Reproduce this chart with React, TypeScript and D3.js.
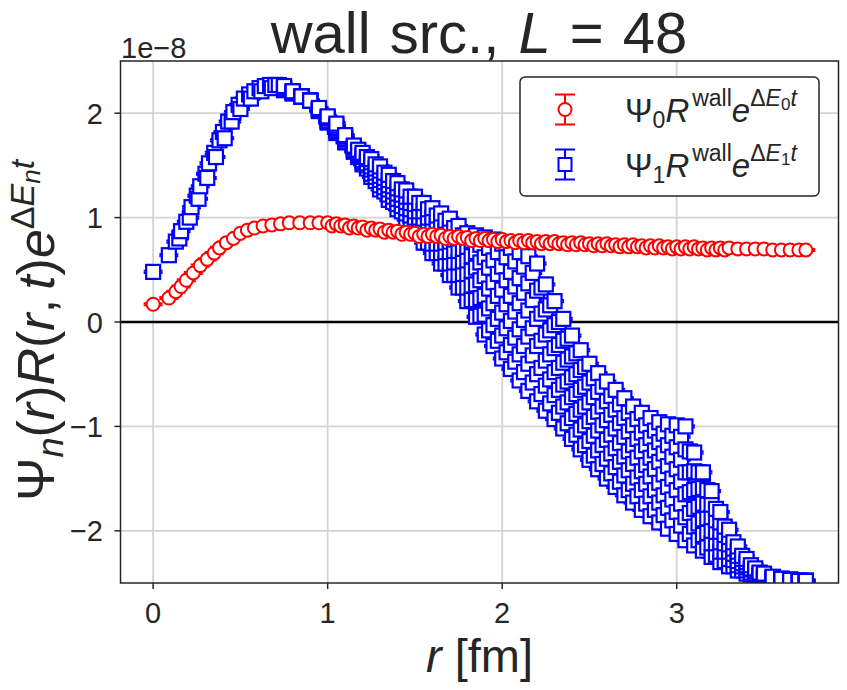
import * as d3 from "d3";

// values are in units of 1e-8
const redR = [0, 0.09, 0.13, 0.16, 0.19, 0.23, 0.27, 0.31, 0.35, 0.38, 0.42, 0.46, 0.5, 0.54, 0.58, 0.63, 0.68, 0.73, 0.78, 0.84, 0.9, 0.95,
  1.0, 1.05, 1.1, 1.15, 1.2, 1.25, 1.3, 1.35, 1.4, 1.45, 1.5, 1.55, 1.6, 1.65, 1.7, 1.75, 1.8, 1.85, 1.9, 1.95,
  2.0, 2.05, 2.1, 2.15, 2.2, 2.25, 2.3, 2.35, 2.4, 2.45, 2.5, 2.55, 2.6, 2.65, 2.7, 2.75, 2.8, 2.85, 2.9, 2.95,
  3.0, 3.05, 3.1, 3.15, 3.2, 3.25, 3.3, 3.35, 3.4, 3.45, 3.5, 3.55, 3.6, 3.65, 3.7, 3.74];
const redV = [0.17, 0.23, 0.29, 0.34, 0.4, 0.47, 0.54, 0.6, 0.66, 0.71, 0.76, 0.8, 0.85, 0.88, 0.9, 0.92, 0.93, 0.94, 0.95, 0.95, 0.95, 0.95,
  0.95, 0.94, 0.93, 0.92, 0.91, 0.9, 0.89, 0.88, 0.87, 0.86, 0.85, 0.84, 0.84, 0.83, 0.82, 0.82, 0.81, 0.8, 0.8, 0.79,
  0.79, 0.78, 0.78, 0.78, 0.77, 0.77, 0.77, 0.76, 0.76, 0.76, 0.75, 0.75, 0.75, 0.74, 0.74, 0.74, 0.73, 0.73, 0.73, 0.72,
  0.72, 0.72, 0.72, 0.71, 0.71, 0.71, 0.71, 0.7, 0.7, 0.7, 0.7, 0.69, 0.69, 0.69, 0.69, 0.69];
// red, other directions (slightly lower)
const redMidR = [1.025, 1.075, 1.125, 1.175, 1.225, 1.275, 1.325, 1.375, 1.425, 1.475, 1.525, 1.575, 1.625, 1.675, 1.725, 1.775,
  1.825, 1.875, 1.925, 1.975, 2.025, 2.075, 2.125, 2.175, 2.225, 2.275, 2.325, 2.375, 2.425, 2.475, 2.525, 2.575,
  2.625, 2.675, 2.725, 2.775, 2.825, 2.875, 2.925, 2.975, 3.025, 3.075, 3.125, 3.175, 3.225, 3.275];
const redMidV = [0.92, 0.92, 0.9, 0.9, 0.88, 0.88, 0.86, 0.86, 0.84, 0.84, 0.82, 0.82, 0.82, 0.8, 0.8, 0.8,
  0.78, 0.78, 0.78, 0.77, 0.77, 0.76, 0.76, 0.76, 0.75, 0.75, 0.75, 0.74, 0.74, 0.74, 0.73, 0.73,
  0.73, 0.72, 0.72, 0.72, 0.71, 0.71, 0.71, 0.7, 0.7, 0.7, 0.7, 0.69, 0.69, 0.69];

// blue, rising part near the origin
const blueRiseR = [0, 0.09, 0.13, 0.15, 0.16, 0.19, 0.21, 0.22, 0.25, 0.26, 0.27, 0.3, 0.31, 0.32, 0.35, 0.36, 0.38, 0.4, 0.41, 0.43,
  0.45, 0.46, 0.49, 0.5, 0.52, 0.55, 0.56, 0.58, 0.61, 0.62, 0.64, 0.67, 0.68, 0.7, 0.72];
const blueRiseV = [0.48, 0.64, 0.77, 0.8, 0.87, 0.96, 1.0, 1.1, 1.21, 1.18, 1.3, 1.42, 1.38, 1.52, 1.62, 1.58, 1.74, 1.82, 1.76, 1.92,
  1.92, 2.01, 2.08, 2.04, 2.14, 2.18, 2.14, 2.21, 2.24, 2.21, 2.26, 2.27, 2.24, 2.27, 2.27];

// blue, falling part: directions read across the band, lowest to highest
const blueR = [0.75, 0.8, 0.85, 0.9, 0.95, 1.0, 1.05, 1.1, 1.15, 1.2, 1.25, 1.3, 1.35, 1.4, 1.45, 1.5, 1.55, 1.6, 1.65, 1.7,
  1.75, 1.8, 1.85, 1.9, 1.95, 2.0, 2.05, 2.1, 2.15, 2.2, 2.25, 2.3, 2.35, 2.4, 2.45, 2.5, 2.55, 2.6, 2.65, 2.7,
  2.75, 2.8, 2.85, 2.9, 2.95, 3.0, 3.05, 3.1, 3.15, 3.2, 3.25, 3.3, 3.35, 3.4, 3.45, 3.5, 3.55, 3.6, 3.65, 3.7, 3.74];
const blueLo = [2.22, 2.19, 2.16, 2.12, 2.02, 1.91, 1.81, 1.72, 1.63, 1.51, 1.39, 1.27, 1.17, 1.08, 0.98, 0.86, 0.76, 0.66, 0.56, 0.45,
  0.33, 0.2, 0.05, -0.12, -0.23, -0.35, -0.45, -0.56, -0.66, -0.76, -0.85, -0.93, -1.02, -1.12, -1.22, -1.32, -1.41, -1.5, -1.58, -1.66,
  -1.73, -1.8, -1.86, -1.92, -1.98, -2.03, -2.09, -2.14, -2.19, -2.25, -2.3, -2.34, -2.38, -2.41, -2.44, -2.46, -2.47, -2.47, -2.47, -2.48, -2.48];
const blueB1 = [2.23, 2.19, 2.16, 2.12, 2.03, 1.92, 1.83, 1.73, 1.64, 1.53, 1.42, 1.31, 1.22, 1.13, 1.04, 0.93, 0.84, 0.75, 0.66, 0.56,
  0.45, 0.33, 0.21, 0.07, -0.03, -0.13, -0.22, -0.31, -0.4, -0.5, -0.61, -0.7, -0.81, -0.92, -1.03, -1.14, -1.23, -1.31, -1.39, -1.47,
  -1.55, -1.61, -1.67, -1.73, -1.78, -1.82, -1.87, -1.96, -2.04, -2.12, -2.2, -2.27, -2.33, -2.38, -2.42, -2.45, -2.46, -2.47, -2.47, -2.48, -2.48];
const blueB2 = [2.24, 2.2, 2.16, 2.12, 2.03, 1.93, 1.85, 1.75, 1.65, 1.55, 1.46, 1.36, 1.27, 1.18, 1.09, 1.0, 0.91, 0.83, 0.75, 0.67,
  0.57, 0.46, 0.36, 0.25, 0.18, 0.09, 0.01, -0.07, -0.14, -0.23, -0.37, -0.48, -0.6, -0.72, -0.84, -0.95, -1.04, -1.13, -1.21, -1.29,
  -1.36, -1.43, -1.48, -1.54, -1.58, -1.61, -1.65, -1.79, -1.89, -2.0, -2.11, -2.2, -2.29, -2.35, -2.41, -2.44, -2.46, -2.47, -2.47, -2.48, -2.48];
const blueB3 = [2.24, 2.2, 2.16, 2.12, 2.04, 1.95, 1.86, 1.76, 1.67, 1.58, 1.49, 1.4, 1.31, 1.23, 1.15, 1.06, 0.99, 0.92, 0.85, 0.77,
  0.68, 0.59, 0.52, 0.44, 0.38, 0.31, 0.25, 0.18, 0.11, 0.03, -0.12, -0.25, -0.39, -0.53, -0.65, -0.77, -0.86, -0.94, -1.02, -1.1,
  -1.18, -1.24, -1.3, -1.34, -1.38, -1.41, -1.44, -1.61, -1.74, -1.87, -2.01, -2.13, -2.24, -2.33, -2.39, -2.43, -2.45, -2.46, -2.47, -2.48, -2.48];
const blueB4 = [2.25, 2.21, 2.16, 2.12, 2.04, 1.96, 1.88, 1.78, 1.68, 1.6, 1.53, 1.45, 1.36, 1.28, 1.2, 1.13, 1.06, 1.0, 0.94, 0.88,
  0.8, 0.72, 0.67, 0.62, 0.59, 0.53, 0.48, 0.42, 0.37, 0.3, 0.12, -0.03, -0.18, -0.33, -0.46, -0.58, -0.67, -0.76, -0.84, -0.92,
  -0.99, -1.06, -1.11, -1.15, -1.18, -1.2, -1.22, -1.43, -1.59, -1.75, -1.92, -2.06, -2.2, -2.3, -2.38, -2.42, -2.45, -2.46, -2.47, -2.48, -2.48];
const blueHi = [2.26, 2.21, 2.16, 2.12, 2.05, 1.97, 1.9, 1.79, 1.69, 1.62, 1.56, 1.49, 1.41, 1.33, 1.26, 1.2, 1.14, 1.09, 1.04, 0.99,
  0.92, 0.85, 0.83, 0.81, 0.79, 0.75, 0.71, 0.67, 0.63, 0.56, 0.36, 0.2, 0.03, -0.13, -0.27, -0.4, -0.49, -0.57, -0.65, -0.73,
  -0.81, -0.87, -0.92, -0.96, -0.98, -0.99, -1.0, -1.25, -1.44, -1.62, -1.82, -1.99, -2.15, -2.27, -2.36, -2.41, -2.44, -2.46, -2.47, -2.48, -2.48];

// further directions sitting between the ones above
const blueHalfR = [1.175, 1.225, 1.275, 1.325, 1.375, 1.425, 1.475, 1.525, 1.575, 1.625, 1.675, 1.725, 1.775, 1.825, 1.875, 1.925,
  1.975, 2.025, 2.075, 2.125, 2.175, 2.225, 2.275, 2.325, 2.375, 2.425, 2.475, 2.525, 2.575, 2.625, 2.675, 2.725,
  2.775, 2.825, 2.875, 2.925, 2.975, 3.025, 3.075, 3.125, 3.175, 3.225, 3.275, 3.325, 3.375, 3.425, 3.475];
const blueM0 = [1.58, 1.47, 1.35, 1.25, 1.15, 1.06, 0.96, 0.85, 0.76, 0.66, 0.56, 0.45, 0.33, 0.21, 0.06, -0.08,
  -0.18, -0.29, -0.38, -0.48, -0.58, -0.69, -0.78, -0.87, -0.97, -1.08, -1.18, -1.28, -1.36, -1.45, -1.53, -1.61,
  -1.67, -1.74, -1.8, -1.85, -1.9, -1.95, -2.03, -2.09, -2.16, -2.23, -2.29, -2.34, -2.38, -2.42, -2.45];
const blueM1 = [1.6, 1.5, 1.39, 1.29, 1.2, 1.11, 1.02, 0.92, 0.84, 0.75, 0.67, 0.57, 0.46, 0.35, 0.23, 0.13,
  0.03, -0.06, -0.15, -0.23, -0.32, -0.44, -0.55, -0.65, -0.77, -0.88, -0.99, -1.09, -1.18, -1.26, -1.34, -1.42,
  -1.49, -1.55, -1.61, -1.66, -1.7, -1.74, -1.83, -1.93, -2.02, -2.12, -2.2, -2.28, -2.34, -2.4, -2.43];
const blueM2 = [1.62, 1.52, 1.43, 1.34, 1.25, 1.17, 1.08, 1.0, 0.92, 0.84, 0.76, 0.68, 0.58, 0.49, 0.4, 0.32,
  0.25, 0.17, 0.1, 0.02, -0.06, -0.18, -0.31, -0.44, -0.57, -0.69, -0.81, -0.91, -0.99, -1.08, -1.16, -1.24,
  -1.3, -1.37, -1.41, -1.46, -1.5, -1.53, -1.63, -1.77, -1.88, -2.01, -2.12, -2.22, -2.31, -2.37, -2.42];
const blueM3 = [1.64, 1.56, 1.47, 1.38, 1.3, 1.22, 1.14, 1.06, 1.0, 0.93, 0.87, 0.79, 0.7, 0.63, 0.57, 0.52,
  0.46, 0.4, 0.34, 0.28, 0.21, 0.08, -0.08, -0.22, -0.36, -0.5, -0.62, -0.72, -0.81, -0.89, -0.97, -1.05,
  -1.12, -1.18, -1.23, -1.26, -1.29, -1.32, -1.44, -1.6, -1.75, -1.9, -2.04, -2.17, -2.27, -2.36, -2.41];
const blueM4 = [1.65, 1.58, 1.51, 1.43, 1.35, 1.27, 1.2, 1.14, 1.08, 1.02, 0.97, 0.9, 0.83, 0.78, 0.74, 0.71,
  0.67, 0.62, 0.58, 0.53, 0.47, 0.33, 0.16, 0.0, -0.16, -0.3, -0.43, -0.54, -0.62, -0.71, -0.79, -0.87,
  -0.93, -0.99, -1.04, -1.07, -1.09, -1.1, -1.24, -1.44, -1.61, -1.79, -1.96, -2.11, -2.24, -2.33, -2.4];

const redErr = 0.01;
const blueErr = 0.01;

const xTicks = [0, 1, 2, 3];
const yTicks = [-2, -1, 0, 1, 2];

const ink = "#262626";
const font = "'Liberation Sans', Arial, sans-serif";

export default function App() {
  const left = 120.5, right = 838.5, top = 61, bottom = 583;
  const x = d3.scaleLinear().domain([-0.187, 3.927]).range([left, right]);
  const y = d3.scaleLinear().domain([-2.5, 2.5]).range([bottom, top]);

  const red = redR.map((r, i) => ({ r, v: redV[i] }));
  redMidR.forEach((r, i) => red.push({ r, v: redMidV[i] }));
  red.sort((a, b) => a.r - b.r);

  const blue = blueRiseR.map((r, i) => ({ r, v: blueRiseV[i] }));
  [blueLo, blueB1, blueB2, blueB3, blueB4, blueHi].forEach(series => {
    series.forEach((v, i) => blue.push({ r: blueR[i], v }));
  });
  [blueM0, blueM1, blueM2, blueM3, blueM4].forEach(series => {
    series.forEach((v, i) => blue.push({ r: blueHalfR[i], v }));
  });
  blue.sort((a, b) => a.r - b.r);

  const cap = 9.5;
  const sq = 14;
  const rad = 6.5;
  const sw = 2;

  const caps = (pts, err, color) => pts.map((d, i) => (
    <g key={i} stroke={color} strokeWidth={sw}>
      <line x1={x(d.r)} x2={x(d.r)} y1={y(d.v - err)} y2={y(d.v + err)} />
      <line x1={x(d.r) - cap} x2={x(d.r) + cap} y1={y(d.v - err)} y2={y(d.v - err)} />
      <line x1={x(d.r) - cap} x2={x(d.r) + cap} y1={y(d.v + err)} y2={y(d.v + err)} />
    </g>
  ));

  const sub = 23;
  return (
    <svg width={847} height={690} style={{ position: "absolute", left: 0, top: 0, background: "#fff" }} fontFamily={font}>
      <defs>
        <clipPath id="plotclip">
          <rect x={left} y={top} width={right - left} height={bottom - top} />
        </clipPath>
      </defs>
      <rect x={0} y={0} width={847} height={690} fill="#fff" />

      {/* grid */}
      {xTicks.map(t => (
        <line key={"gx" + t} x1={x(t)} x2={x(t)} y1={top} y2={bottom} stroke="#d3d3d3" strokeWidth={1.8} />
      ))}
      {yTicks.map(t => (
        <line key={"gy" + t} x1={left} x2={right} y1={y(t)} y2={y(t)} stroke="#d3d3d3" strokeWidth={1.8} />
      ))}

      <g clipPath="url(#plotclip)">
        <line x1={left} x2={right} y1={y(0)} y2={y(0)} stroke="#000" strokeWidth={2.4} />
        {caps(blue, blueErr, "#0000ff")}
        {caps(red, redErr, "#ff0000")}
        {blue.map((d, i) => (
          <rect key={"b" + i} x={x(d.r) - sq / 2} y={y(d.v) - sq / 2} width={sq} height={sq}
            fill="#fff" stroke="#0000ff" strokeWidth={2.2} />
        ))}
        {red.map((d, i) => (
          <circle key={"r" + i} cx={x(d.r)} cy={y(d.v)} r={rad} fill="#fff" stroke="#ff0000" strokeWidth={sw} />
        ))}
      </g>

      {/* frame */}
      <rect x={left} y={top} width={right - left} height={bottom - top} fill="none" stroke={ink} strokeWidth={1.5} />

      {/* ticks */}
      {xTicks.map(t => (
        <g key={"tx" + t}>
          <line x1={x(t)} x2={x(t)} y1={bottom} y2={bottom + 6} stroke={ink} strokeWidth={1.5} />
          <text x={x(t)} y={623} fontSize={29} textAnchor="middle" fill={ink}>{String(t)}</text>
        </g>
      ))}
      {yTicks.map(t => (
        <g key={"ty" + t}>
          <line x1={left - 6} x2={left} y1={y(t)} y2={y(t)} stroke={ink} strokeWidth={1.5} />
          <text x={103} y={y(t) + 10.5} fontSize={29} textAnchor="end" fill={ink}>{t < 0 ? "\u2212" + Math.abs(t) : String(t)}</text>
        </g>
      ))}
      <text x={121} y={58} fontSize={29} fill={ink}>1e{"\u2212"}8</text>

      {/* title */}
      <text x={479} y={53} fontSize={58} wordSpacing={3} textAnchor="middle" fill={ink}>
        wall src., <tspan fontStyle="italic">L</tspan> = 48
      </text>

      {/* x label */}
      <text x={479.5} y={672} fontSize={47} textAnchor="middle" fill={ink}>
        <tspan fontStyle="italic">r</tspan> [fm]
      </text>

      {/* y label, starts at the bottom and reads upward */}
      <text transform="translate(54,501) rotate(-90)" fontSize={52} fill={ink}>
        <tspan>{"\u03a8"}</tspan>
        <tspan fontSize={36} fontStyle="italic" dy={9}>n</tspan>
        <tspan dy={-9}>(</tspan>
        <tspan fontStyle="italic">r</tspan>
        <tspan>)</tspan>
        <tspan fontStyle="italic">R</tspan>
        <tspan>(</tspan>
        <tspan fontStyle="italic">r</tspan>
        <tspan>,</tspan>
        <tspan fontStyle="italic" dx={9}>t</tspan>
        <tspan>)</tspan>
        <tspan fontStyle="italic">e</tspan>
        <tspan fontSize={34} dy={-20}>{"\u0394"}</tspan>
        <tspan fontSize={34} fontStyle="italic">E</tspan>
        <tspan fontSize={26} fontStyle="italic" dy={6}>n</tspan>
        <tspan fontSize={34} fontStyle="italic" dy={-6}>t</tspan>
      </text>

      {/* legend */}
      <rect x={520} y={77} width={299} height={119} rx={5} fill="#fff" stroke={ink} strokeWidth={1.5} />
      {[{ cy: 109.5, color: "#ff0000", shape: "circle", n: "0" }, { cy: 164.5, color: "#0000ff", shape: "square", n: "1" }].map(item => (
        <g key={item.n}>
          <g stroke={item.color} strokeWidth={sw}>
            <line x1={565} x2={565} y1={item.cy - 15} y2={item.cy + 15} />
            <line x1={555} x2={575} y1={item.cy - 15} y2={item.cy - 15} />
            <line x1={555} x2={575} y1={item.cy + 15} y2={item.cy + 15} />
          </g>
          {item.shape === "circle"
            ? <circle cx={565} cy={item.cy} r={rad} fill="#fff" stroke={item.color} strokeWidth={sw} />
            : <rect x={565 - 6.5} y={item.cy - 6.5} width={13} height={13} fill="#fff" stroke={item.color} strokeWidth={sw} />}
          <text x={625} y={item.cy + 12} fontSize={33} fill={ink}>
            <tspan>{"\u03a8"}</tspan>
            <tspan fontSize={sub} dy={6}>{item.n}</tspan>
            <tspan fontStyle="italic" dy={-6}>R</tspan>
            <tspan fontSize={sub} dy={-16} dx={3}>wall</tspan>
            <tspan fontStyle="italic" dy={16}>e</tspan>
            <tspan fontSize={sub} dy={-16}>{"\u0394"}</tspan>
            <tspan fontSize={sub} fontStyle="italic">E</tspan>
            <tspan fontSize={17} dy={4}>{item.n}</tspan>
            <tspan fontSize={sub} fontStyle="italic" dy={-4}>t</tspan>
          </text>
        </g>
      ))}
    </svg>
  );
}
